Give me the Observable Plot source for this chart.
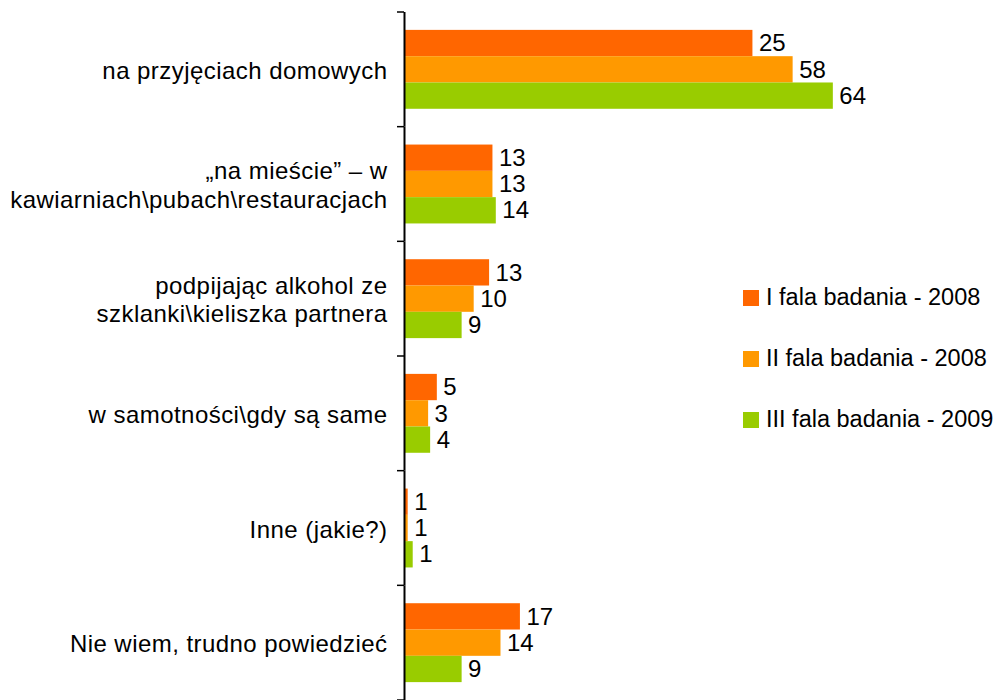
<!DOCTYPE html>
<html>
<head>
<meta charset="utf-8">
<script src="https://cdn.jsdelivr.net/npm/d3@7"></script>
<script src="https://cdn.jsdelivr.net/npm/@observablehq/plot@0.6"></script>
<style>
  body { margin: 0; background: #fff; font-family: "Liberation Sans", Arial, sans-serif; }
  #wrap { position: relative; width: 997px; height: 700px; }
  #legend { position: absolute; left: 0; top: 0; pointer-events: none; }
</style>
</head>
<body>
<div id="wrap"></div>
<script>
// ---- data ----
const categories = [
  "na przyjęciach domowych",
  "„na mieście” – w\nkawiarniach\\pubach\\restauracjach",
  "podpijając alkohol ze\nszklanki\\kieliszka partnera",
  "w samotności\\gdy są same",
  "Inne (jakie?)",
  "Nie wiem, trudno powiedzieć"
];
const series = ["I fala badania - 2008", "II fala badania - 2008", "III fala badania - 2009"];
const colors = ["#FF6600", "#FF9900", "#99CC00"];

// bar lengths as drawn in the picture, and the printed labels
const wave1Values = [52, 13.2, 12.7, 4.9, 0.55, 17.3];
const wave1Labels = ["25", "13", "13", "5", "1", "17"];
const wave2Values = [58, 13.2, 10.4, 3.6, 0.55, 14.4];
const wave2Labels = ["58", "13", "10", "3", "1", "14"];
const wave3Values = [64, 13.7, 8.6, 3.9, 1.3, 8.6];
const wave3Labels = ["64", "14", "9", "4", "1", "9"];

const xMax = 88.5;

// ---- table ----
const valueSets = [wave1Values, wave2Values, wave3Values];
const labelSets = [wave1Labels, wave2Labels, wave3Labels];
const rows = [];
series.forEach((s, si) => {
  categories.forEach((c, ci) => {
    rows.push({category: c, series: s, value: valueSets[si][ci], label: labelSets[si][ci]});
  });
});

const FONT = "'Liberation Sans', Arial, sans-serif";

const chart = Plot.plot({
  width: 997,
  height: 700,
  marginLeft: 404,
  marginRight: 0,
  marginTop: 12,
  marginBottom: 0,
  style: {fontFamily: FONT, fontSize: "24px", color: "#000", background: "#fff", overflow: "visible"},
  x: {domain: [0, xMax], axis: null},
  y: {domain: series, axis: null, paddingInner: 0, paddingOuter: 0.68, round: false},
  fy: {domain: categories, axis: null, padding: 0, round: false},
  color: {domain: series, range: colors},
  marks: [
    Plot.barX(rows, {fy: "category", y: "series", x1: () => 0, x2: "value", fill: "series"}),
    Plot.text(rows, {fy: "category", y: "series", x: "value", text: "label", dx: 6, textAnchor: "start", fontSize: 24, fill: "#000"}),
    Plot.text(categories, {fy: d => d, text: d => d, frameAnchor: "left", textAnchor: "end", dx: -17, fontSize: 24, lineHeight: 1.18, fill: "#000", className: "catlabel"}),
    Plot.ruleX([0], {stroke: "#000", strokeWidth: 2})
  ]
});

document.getElementById("wrap").appendChild(chart);

// slightly wider category labels, as in the reference
d3.select(chart).selectAll(".catlabel text").style("letter-spacing", "0.45px");

// boundary ticks on the category axis, from Plot's fy scale
const fy = chart.scale("fy");
const x0 = chart.scale("x").apply(0);
const bounds = categories.map(c => fy.apply(c)).concat([fy.apply(categories[categories.length - 1]) + fy.bandwidth]);
d3.select(chart).append("g")
  .selectAll("line").data(bounds).join("line")
  .attr("x1", x0 - 7).attr("x2", x0)
  .attr("y1", d => d).attr("y2", d => d)
  .attr("stroke", "#000").attr("stroke-width", 1.5);

// legend
const leg = d3.select("#wrap").append("svg")
  .attr("id", "legend").attr("width", 997).attr("height", 700);
const items = leg.selectAll("g").data(series).join("g")
  .attr("transform", (d, i) => `translate(743, ${290 + i * 61})`);
items.append("rect").attr("width", 16).attr("height", 16).attr("fill", (d, i) => colors[i]);
items.append("text").attr("x", 23).attr("y", 15)
  .attr("font-family", FONT).attr("font-size", 23.5).attr("fill", "#000")
  .text(d => d);
</script>
</body>
</html>
